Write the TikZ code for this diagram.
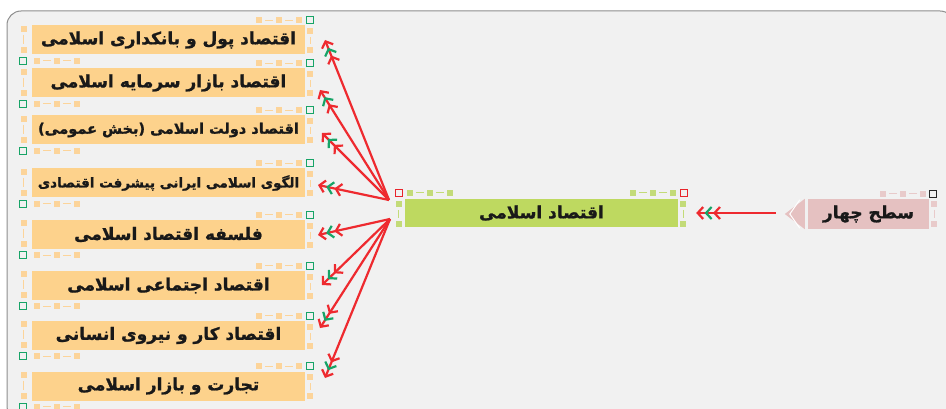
\documentclass[tikz,border=0pt]{standalone}
\usepackage{fontspec}
\usetikzlibrary{arrows.meta,calc}
\TeXXeTstate=1
\newfontfamily\fa[Script=Arabic, BoldFeatures={FakeBold=1.2}]{DejaVu Sans}
\definecolor{panel}{HTML}{F1F1F1}
\definecolor{panelline}{HTML}{8E8E8E}
\definecolor{orangebox}{HTML}{FDD28C}
\definecolor{orangehdl}{HTML}{FCD49A}
\definecolor{greenbox}{HTML}{BED960}
\definecolor{greenhdl}{HTML}{C3DB78}
\definecolor{pinkbox}{HTML}{E5C1C1}
\definecolor{pinkhdl}{HTML}{E8CACA}
\definecolor{arrred}{HTML}{EE2A2F}
\definecolor{arrgreen}{HTML}{17A467}
\definecolor{hdlgreen}{HTML}{17A467}
\definecolor{hdlred}{HTML}{E8242B}
\tikzset{
  boxtext/.style={inner sep=0pt, font=\fa\bfseries\fontsize{17}{17}\selectfont, text=black!90},
  topic/.style={boxtext, fill=orangebox, minimum width=273pt, minimum height=29pt},
  mainbox/.style={boxtext, fill=greenbox, minimum width=273pt, minimum height=28pt},
  levelbox/.style={boxtext, fill=pinkbox, minimum width=121pt, minimum height=30pt},
  conn/.style={draw=arrred, line width=2.2pt,
    -{Straight Barb[color=arrred,length=5.5pt,width=12pt,line width=2.2pt,sep=0.3pt]
      Straight Barb[color=arrgreen,length=5.5pt,width=12pt,line width=2.2pt,sep=0.3pt]
      Straight Barb[color=arrred,length=5.5pt,width=12pt,line width=2.2pt]}},
  hout/.style={draw=#1, line width=1.1pt},
  hdash/.style={draw=#1, line width=0.8pt},
}
% handle squares and dashes (relative coordinates)
\newcommand\hq[3]{\fill[#3] (#1-3,#2-3) rectangle (#1+3,#2+3);}
\newcommand\ho[3]{\draw[hout=#3] (#1-3.5,#2-3.5) rectangle (#1+3.5,#2+3.5);}
\newcommand\hh[4]{\draw[hdash=#4] (#1,#3) -- (#2,#3);}
\newcommand\hv[4]{\draw[hdash=#4] (#3,#1) -- (#3,#2);}
% selection frame of a left topic box
\newcommand\topicframe[1]{%
  \begin{scope}[shift={(#1.north east)}]
    \ho{5}{-5}{hdlgreen}
    \hq{-6}{-5}{orangehdl}\hq{-26}{-5}{orangehdl}\hq{-46}{-5}{orangehdl}
    \hh{-40}{-32}{-5}{orangehdl}\hh{-20}{-12}{-5}{orangehdl}
    \hq{5}{6}{orangehdl}\hq{5}{25}{orangehdl}
    \hv{12}{19}{5}{orangehdl}
  \end{scope}
  \begin{scope}[shift={(#1.south west)}]
    \ho{-9}{6}{hdlgreen}
    \hq{5}{6}{orangehdl}\hq{25}{6}{orangehdl}\hq{45}{6}{orangehdl}
    \hh{11}{19}{6}{orangehdl}\hh{31}{39}{6}{orangehdl}
    \hq{-8}{-26}{orangehdl}\hq{-8}{-5}{orangehdl}
    \hv{-20}{-11}{-8}{orangehdl}
  \end{scope}}
\begin{document}
\begin{tikzpicture}[x=1pt,y=-1pt]
\useasboundingbox (0,0) rectangle (946,409);
\clip (0,0) rectangle (946,409);
\fill[white] (0,0) rectangle (946,409);
\draw[panelline, fill=panel, line width=1pt, rounded corners=14pt] (7,11) rectangle (954,420);

% left topic boxes
\node[topic] (b1) at (168.5,40) {\beginR اقتصاد پول و بانکداری اسلامی\endR};
\node[topic] (b2) at (168.5,83) {\beginR اقتصاد بازار سرمایه اسلامی\endR};
\node[topic, font=\fa\bfseries\fontsize{14.5}{14.5}\selectfont] (b3) at (168.5,130) {\beginR اقتصاد دولت اسلامی (بخش عمومی)\endR};
\node[topic, font=\fa\bfseries\fontsize{13.5}{13.5}\selectfont] (b4) at (168.5,183) {\beginR الگوی اسلامی ایرانی پیشرفت اقتصادی\endR};
\node[topic] (b5) at (168.5,234.5) {\beginR فلسفه اقتصاد اسلامی\endR};
\node[topic] (b6) at (168.5,285.5) {\beginR اقتصاد اجتماعی اسلامی\endR};
\node[topic] (b7) at (168.5,335.5) {\beginR اقتصاد کار و نیروی انسانی\endR};
\node[topic] (b8) at (168.5,386) {\beginR تجارت و بازار اسلامی\endR};
\foreach \b in {b1,b2,b3,b4,b5,b6,b7,b8} {\topicframe{\b}}

% central box
\node[mainbox] (m) at (541.5,213) {\beginR اقتصاد اسلامی\endR};
\begin{scope}[shift={(m.north west)}]
  \ho{-6}{-6}{hdlred}
  \hq{5}{-6}{greenhdl}\hq{25}{-6}{greenhdl}\hq{45}{-6}{greenhdl}
  \hh{11}{19}{-6}{greenhdl}\hh{31}{39}{-6}{greenhdl}
  \hq{-6}{5}{greenhdl}\hq{-6}{25}{greenhdl}
  \hv{11}{19}{-6}{greenhdl}
\end{scope}
\begin{scope}[shift={(m.north east)}]
  \ho{6}{-6}{hdlred}
  \hq{-5}{-6}{greenhdl}\hq{-25}{-6}{greenhdl}\hq{-45}{-6}{greenhdl}
  \hh{-11}{-19}{-6}{greenhdl}\hh{-31}{-39}{-6}{greenhdl}
  \hq{5}{5}{greenhdl}\hq{5}{25}{greenhdl}
  \hv{11}{19}{5}{greenhdl}
\end{scope}

% level box
\node[levelbox] (p) at (868.5,214) {\beginR سطح چهار\endR};
\fill[pinkbox] ($(p.west)+(-23,0)$) -- ($(p.north west)+(-3,0)$) -- ($(p.south west)+(-3,0)$) -- cycle;
\draw[white, line width=1pt] ($(p.north west)+(-8,1)$) -- ($(p.west)+(-18,0)$) -- ($(p.south west)+(-8,-1)$);
\begin{scope}[shift={(p.north east)}]
  \ho{4}{-5}{black!85}
  \hq{-6}{-5}{pinkhdl}\hq{-26}{-5}{pinkhdl}\hq{-46}{-5}{pinkhdl}
  \hh{-12}{-20}{-5}{pinkhdl}\hh{-32}{-40}{-5}{pinkhdl}
  \hq{5}{5}{pinkhdl}\hq{5}{25}{pinkhdl}
  \hv{11}{19}{5}{pinkhdl}
\end{scope}

% connector coordinates
\coordinate (ps) at ($(p.west)+(-32,-1)$);
\coordinate (pe) at ($(m.east)+(18,0)$);
\coordinate (up) at (389,200);
\coordinate (lo) at (390,219);
\coordinate (e1) at (325,40);
\coordinate (e2) at (320,90);
\coordinate (e3) at (322,133);
\coordinate (e4) at (318,185);
\coordinate (e5) at (318,235);
\coordinate (e6) at (322,285);
\coordinate (e7) at (320,328);
\coordinate (e8) at (325,378);

\draw[conn] (ps) -- (pe);
\foreach \e in {e1,e2,e3,e4} {\draw[conn] (up) -- (\e);}
\foreach \e in {e5,e6,e7,e8} {\draw[conn] (lo) -- (\e);}
\end{tikzpicture}
\end{document}
